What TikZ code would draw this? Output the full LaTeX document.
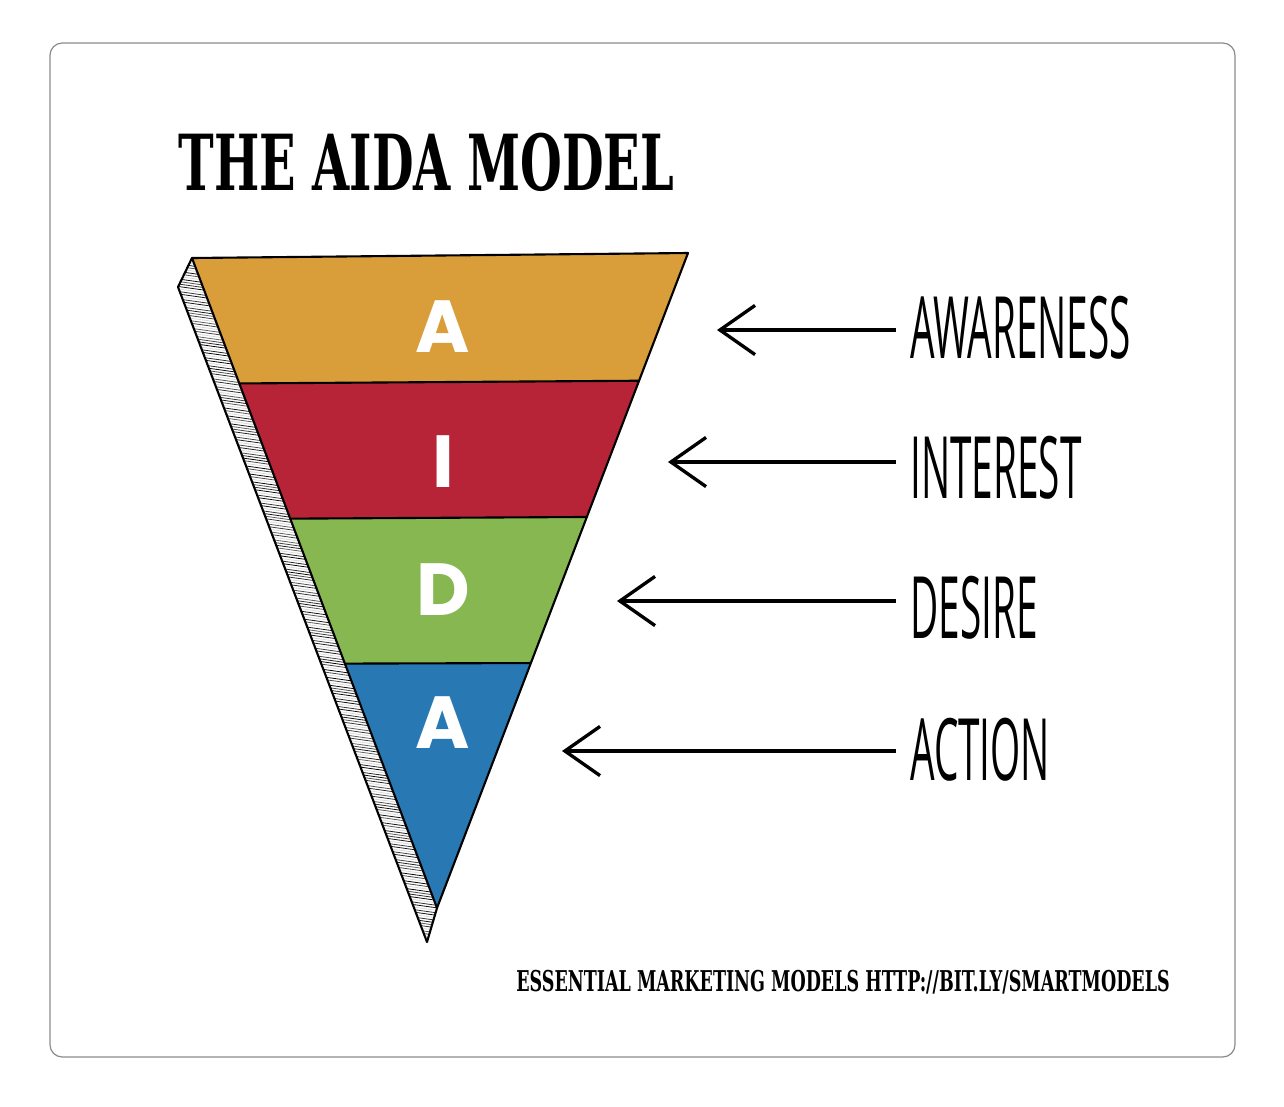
\documentclass[tikz,border=0pt]{standalone}
\usepackage{fontspec}
\usetikzlibrary{arrows.meta,calc}
\newfontfamily\titlefont[FakeStretch=0.62]{DejaVu Serif}
\newfontfamily\handfont[FakeStretch=0.45]{Open Sans}
\newfontfamily\letterfont{Poppins}
\definecolor{aidaorange}{RGB}{217,157,58}
\definecolor{aidared}{RGB}{183,36,56}
\definecolor{aidagreen}{RGB}{135,183,80}
\definecolor{aidablue}{RGB}{40,120,180}
\begin{document}
\begin{tikzpicture}[x=0.02cm,y=-0.02cm,
  bandline/.style={draw=black,line width=1.2pt,line join=round},
  bandletter/.style={text=white,inner sep=0pt,font=\letterfont\bfseries\fontsize{42}{46}\selectfont},
  stagelabel/.style={anchor=west,inner sep=0pt,font=\handfont\fontsize{49}{52}\selectfont},
  stagearrow/.style={line width=1.9pt,shorten <=8pt,-{Straight Barb[length=20pt,width=28pt]}}]
\path[use as bounding box] (0,0) rectangle (1284,1106);
\draw[black!45,line width=0.7pt,rounded corners=7pt] (50,43) rectangle (1235,1057);
\node[anchor=west,inner sep=0pt,font=\titlefont\bfseries\fontsize{44}{48}\selectfont] (title) at (178,162) {THE AIDA MODEL};
\coordinate (tl) at (192,258);
\coordinate (tr) at (688,253);
\coordinate (tip) at (437,908);
\coordinate (l1) at ($(tl)!0.193!(tip)$);
\coordinate (r1) at ($(tr)!0.195!(tip)$);
\coordinate (l2) at ($(tl)!0.401!(tip)$);
\coordinate (r2) at ($(tr)!0.403!(tip)$);
\coordinate (l3) at ($(tl)!0.624!(tip)$);
\coordinate (r3) at ($(tr)!0.626!(tip)$);
\coordinate (sl) at (178,287);
\coordinate (sb) at (427,942);
\fill[white] (tl) -- (sl) -- (sb) -- (tip) -- cycle;
\begin{scope}
\clip (tl) -- (sl) -- (sb) -- (tip) -- cycle;
\foreach \k in {0,...,300}
  \pgfmathtruncatemacro{\shade}{mod(\k*37,11)<3 ? 15 : 60+mod(\k*53,40)}
  \draw[black!\shade,line width=0.45pt] (150,230+2.5*\k) -- (470,230+2.5*\k+45);
\end{scope}
\draw[bandline] (tl) -- (sl) -- (sb) -- (tip);
\fill[aidaorange] (tl) -- (tr) -- (r1) -- (l1) -- cycle;
\fill[aidared] (l1) -- (r1) -- (r2) -- (l2) -- cycle;
\fill[aidagreen] (l2) -- (r2) -- (r3) -- (l3) -- cycle;
\fill[aidablue] (l3) -- (r3) -- (tip) -- cycle;
\draw[bandline] (tl) -- (tr) -- (tip) -- cycle;
\draw[bandline] (l1) -- (r1);
\draw[bandline] (l2) -- (r2);
\draw[bandline] (l3) -- (r3);
\node[bandletter] (letA) at (443,327) {A};
\node[bandletter] (letI) at (443,462) {I};
\node[bandletter] (letD) at (443,590) {D};
\node[bandletter] (letAc) at (443,723) {A};
\node[stagelabel] (awareness) at (910,328) {AWARENESS};
\node[stagelabel] (interest) at (910,468) {INTEREST};
\node[stagelabel] (desire) at (910,608) {DESIRE};
\node[stagelabel] (action) at (910,750) {ACTION};
\coordinate (tipAw) at (717,330);
\coordinate (tipIn) at (668,462);
\coordinate (tipDe) at (617,601);
\coordinate (tipAc) at (562,751);
\draw[stagearrow] (tipAw -| awareness.west) -- (tipAw);
\draw[stagearrow] (tipIn -| interest.west) -- (tipIn);
\draw[stagearrow] (tipDe -| desire.west) -- (tipDe);
\draw[stagearrow] (tipAc -| action.west) -- (tipAc);
\node[anchor=west,inner sep=0pt,font=\titlefont\bfseries\fontsize{16.3}{18}\selectfont,xscale=0.985] (footer) at (516,982) {ESSENTIAL MARKETING MODELS HTTP://BIT.LY/SMARTMODELS};
\end{tikzpicture}
\end{document}
